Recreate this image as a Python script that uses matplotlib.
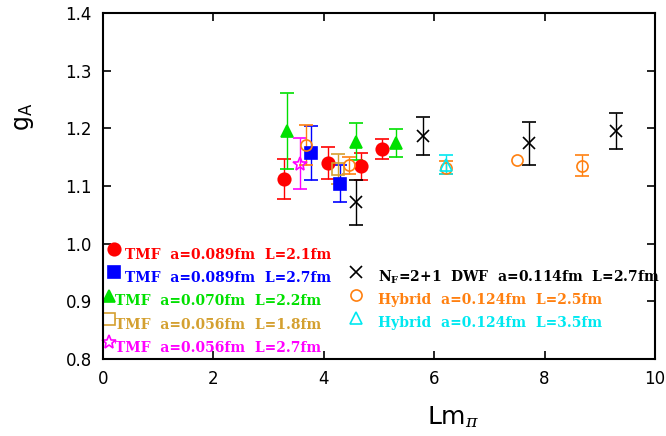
import numpy as np
import matplotlib
matplotlib.use("Agg")
import matplotlib.pyplot as plt

plt.rcParams['mathtext.fontset'] = 'dejavuserif'

# data: (Lm_pi, g_A, error)
tmf1_x = [3.28, 4.08, 4.67, 5.05]
tmf1_y = [1.112, 1.140, 1.134, 1.164]
tmf1_e = [0.034, 0.027, 0.024, 0.018]

tmf2_x = [3.76, 4.29]
tmf2_y = [1.157, 1.104]
tmf2_e = [0.047, 0.032]

tmf3_x = [3.34, 4.59, 5.30]
tmf3_y = [1.196, 1.177, 1.175]
tmf3_e = [0.066, 0.032, 0.024]

tmf4_x = [4.26]
tmf4_y = [1.129]
tmf4_e = [0.026]

tmf5_x = [3.56]
tmf5_y = [1.139]
tmf5_e = [0.044]

dwf_x = [4.58, 5.79, 7.71, 9.29]
dwf_y = [1.072, 1.186, 1.174, 1.196]
dwf_e = [0.039, 0.033, 0.037, 0.031]

hyb1_x = [3.67, 4.46, 6.22, 7.50, 8.67]
hyb1_y = [1.171, 1.136, 1.132, 1.145, 1.135]
hyb1_e = [0.034, 0.015, 0.012, np.nan, 0.018]

hyb2_x = [6.22]
hyb2_y = [1.137]
hyb2_e = [0.017]

labels_left = ["TMF  a=0.089fm  L=2.1fm", "TMF  a=0.089fm  L=2.7fm",
               "TMF  a=0.070fm  L=2.2fm", "TMF  a=0.056fm  L=1.8fm",
               "TMF  a=0.056fm  L=2.7fm"]
labels_right = [r"N$_\mathbf{F}$=2+1  DWF  a=0.114fm  L=2.7fm",
                "Hybrid  a=0.124fm  L=2.5fm", "Hybrid  a=0.124fm  L=3.5fm"]

fig = plt.figure(figsize=(6.66, 4.36), dpi=100)
ax = fig.add_axes([0.1547, 0.1766, 0.8288, 0.7936])

red, blue, green, gold, mag, orange, cyan = ('#ff0000', '#0000ff', '#00e000',
                                             '#d4a030', '#ff00ff', '#ff8010', '#00e8f0')

left = [
    (tmf1_x, tmf1_y, tmf1_e, red, 'o', 'full', 9),
    (tmf2_x, tmf2_y, tmf2_e, blue, 's', 'full', 8),
    (tmf3_x, tmf3_y, tmf3_e, green, '^', 'full', 9),
    (tmf4_x, tmf4_y, tmf4_e, gold, 's', 'none', 8),
    (tmf5_x, tmf5_y, tmf5_e, mag, '*', 'none', 10),
]
right = [
    (dwf_x, dwf_y, dwf_e, 'black', 'x', 'full', 9),
    (hyb1_x, hyb1_y, hyb1_e, orange, 'o', 'none', 8),
    (hyb2_x, hyb2_y, hyb2_e, cyan, '^', 'none', 8),
]

for x, y, e, c, m, fill, ms in left + right:
    ax.errorbar(x, y, yerr=e, fmt=m, color=c, mfc=(c if fill == 'full' else 'none'),
                mec=c, ms=ms, mew=1.2, capsize=5, elinewidth=1.0, capthick=1.0)

# legend keys drawn by hand
lx_m = [0.020, 0.020, 0.011, 0.011, 0.010]
lx_t = [0.040, 0.040, 0.022, 0.022, 0.022]
for i, ((x, y, e, c, m, fill, ms), lab) in enumerate(zip(left, labels_left)):
    ym = 0.318 - i * 0.0675
    ax.plot([lx_m[i]], [ym], marker=m, color=c, mfc=(c if fill == 'full' else 'none'),
            mec=c, ms=ms, mew=1.2, transform=ax.transAxes, clip_on=False)
    ax.text(lx_t[i], ym - 0.016, lab, color=c, transform=ax.transAxes,
            family='DejaVu Serif', weight='bold', fontsize=10, va='center', ha='left')

for i, ((x, y, e, c, m, fill, ms), lab) in enumerate(zip(right, labels_right)):
    ym = 0.251 - i * 0.0665
    ax.plot([0.458], [ym], marker=m, color=c, mfc=(c if fill == 'full' else 'none'),
            mec=c, ms=ms, mew=1.2, transform=ax.transAxes, clip_on=False)
    ax.text(0.498, ym - 0.014, lab, color=c, transform=ax.transAxes,
            family='DejaVu Serif', weight='bold', fontsize=10, va='center', ha='left')

ax.set_xlim(0, 10)
ax.set_ylim(0.8, 1.4)
ax.set_xticks(np.arange(0, 11, 2))
ax.set_yticks(np.arange(0.8, 1.41, 0.1))
ax.set_yticklabels(["%.1f" % v for v in np.arange(0.8, 1.41, 0.1)])
ax.tick_params(direction='in', top=True, right=True, length=6, width=1.2,
               labelsize=12, pad=8)
for s in ax.spines.values():
    s.set_linewidth(1.5)

ax.set_xlabel(r"Lm$_\pi$", fontsize=18)
ax.xaxis.set_label_coords(0.635, -0.13)
ax.set_ylabel(r"g$_\mathsf{A}$", fontsize=17)
ax.yaxis.set_label_coords(-0.122, 0.70)

fig.savefig("out.png", dpi=100)
